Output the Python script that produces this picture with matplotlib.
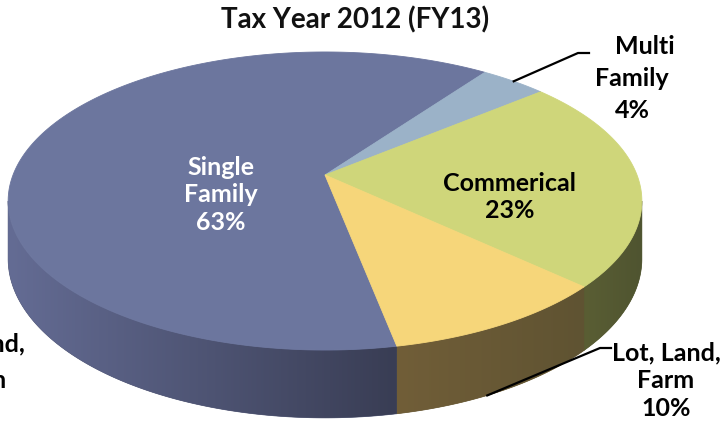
import numpy as np
import matplotlib.pyplot as plt
from matplotlib.colors import to_rgb
from matplotlib.patches import Polygon

# data
title = "Tax Year 2012 (FY13)"
categories = ["Single\nFamily", "Multi\nFamily", "Commerical", "Lot, Land,\nFarm"]
shares = [63, 4, 23, 10]

top_colors = ["#6c769e", "#9bb2c8", "#cfd67a", "#f6d67a"]
side_light = ["#646c94", "#7a8ca0", "#5a5e34", "#715e38"]
side_dark = ["#393d54", "#5a6a7a", "#4f5430", "#5f5332"]
label_colors = ["white", "black", "black", "black"]

# 3d pie geometry (pixels)
W, H = 725, 426
cx, cy = 325, 175          # apex of the pie
R, S = 312, 144.5          # radii of top face
k = 0.1745                 # perspective factor
T = 56                     # thickness
start = -79.0              # start angle of first slice (deg), clockwise


def project(theta_deg, r=1.0, depth=0.0):
    t = np.radians(theta_deg)
    u = r * np.cos(t)
    v = -r * np.sin(t)
    w = 1 - k * v
    return cx + R * u / w, cy + S * v / w + depth / w


fig = plt.figure(figsize=(W / 100, H / 100), dpi=100)
ax = fig.add_axes([0, 0, 1, 1])
ax.axis("off")

# slice angle ranges
angles = []
a = start + 360
for s in shares:
    span = s / 100 * 360
    angles.append((a - span, a))
    a -= span

lo_vis, hi_vis = 180 + np.degrees(np.arcsin(k)), 360 - np.degrees(np.arcsin(k))

# side walls (front half only) filled with a horizontal gradient
for i, (a0, a1) in enumerate(angles):
    for off in (-360, 0, 360):
        b0 = max(a0 + off, lo_vis)
        b1 = min(a1 + off, hi_vis)
        if b1 <= b0:
            continue
        th = np.linspace(b0, b1, 200)
        top = [project(t) for t in th]
        bot = [project(t, depth=T) for t in th]
        c0, c1 = np.array(to_rgb(side_light[i])), np.array(to_rgb(side_dark[i]))
        mid_col = tuple((c0 + c1) / 2)
        wall = Polygon(top + bot[::-1], closed=True, facecolor=mid_col,
                       edgecolor=mid_col, linewidth=0.5)
        ax.add_patch(wall)
        xs = [p[0] for p in top + bot]
        ys = [p[1] for p in top + bot]
        grad = np.linspace(0, 1, 256)[None, :, None]
        img = c0 + (c1 - c0) * grad
        im = ax.imshow(img, extent=(min(xs), max(xs), max(ys), min(ys)),
                       aspect="auto", interpolation="bilinear", zorder=1.5)
        im.set_clip_path(wall)

# top faces
for i, (a0, a1) in enumerate(angles):
    th = np.linspace(a0, a1, 200)
    pts = [(cx, cy)] + [project(t) for t in th]
    ax.add_patch(Polygon(pts, closed=True, facecolor=top_colors[i],
                         edgecolor=top_colors[i], linewidth=0.6, zorder=2))

ax.set_xlim(0, W)
ax.set_ylim(H, 0)

font = "Lato"
fs = 18

ax.text(355, 20, title, ha="center", va="center", fontsize=20,
        fontweight="bold", family=font, color="#111111")

# inside labels
inside = {0: (221, 195), 2: (510, 197)}
for i, (x, y) in inside.items():
    ax.text(x, y, f"{categories[i]}\n{shares[i]}%", ha="center", va="center",
            fontsize=fs, fontweight="bold", family=font,
            color=label_colors[i], linespacing=1.25, zorder=3)

# outside labels with leaders
mid = sum(angles[1]) / 2
x0, y0 = project(mid)
ax.plot([x0, 578, 589], [y0, 53, 53], color="black", lw=1.6, zorder=3)
multi_lines = categories[1].split("\n") + [f"{shares[1]}%"]
for line, (x, y) in zip(multi_lines, [(645, 46), (632, 78), (632, 110)]):
    ax.text(x, y, line, ha="center", va="center", fontsize=fs,
            fontweight="bold", family=font, color="black")

x0, y0 = project(-64, depth=T)
ax.plot([x0, 600, 611], [y0, 348, 348], color="black", lw=1.6, zorder=3)
ax.text(666, 381, f"{categories[3]}\n{shares[3]}%", ha="center", va="center",
        fontsize=fs, fontweight="bold", family=font, color="black",
        linespacing=1.25)

# neighbouring label cut by the left edge
ax.text(25, 344, "Lot, Land,", ha="right", va="center", fontsize=fs,
        fontweight="bold", family=font, color="black")
ax.text(6, 381, "Farm", ha="right", va="center", fontsize=fs,
        fontweight="bold", family=font, color="black")

fig.savefig("out.png", dpi=100)
